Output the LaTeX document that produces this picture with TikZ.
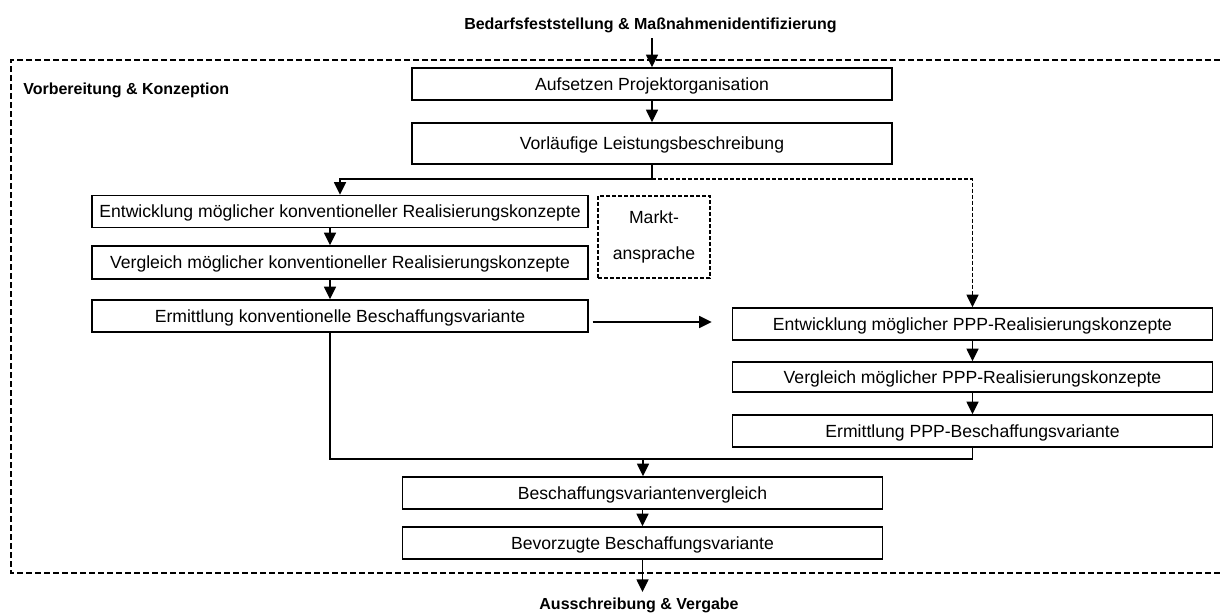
\documentclass[tikz,border=0pt]{standalone}
\usepackage{fontspec}
\setmainfont{Liberation Sans}
\usetikzlibrary{arrows.meta}

\begin{document}
\begin{tikzpicture}[
    x=0.75pt,y=-0.75pt,
    box/.style={draw,line width=1.1pt,inner sep=0pt,text height=9.6pt,text depth=0pt,
      minimum width=360pt,minimum height=24pt,font=\fontsize{13.2}{15}\selectfont},
    widebox/.style={box,minimum width=372pt},
    notebox/.style={box,minimum width=84pt,minimum height=61.5pt,align=center,
      text height=,text depth=,
      dash pattern=on 3pt off 1.5pt,font=\fontsize{13.2}{27.5}\selectfont},
    title/.style={inner sep=0pt,font=\fontsize{12}{14}\selectfont\bfseries},
    arrow/.style={-{Triangle[length=9.5pt,width=9pt]},draw=black,line width=1.1pt},
    link/.style={draw=black,line width=1.1pt},
    frame/.style={line width=1.4pt,dash pattern=on 4.5pt off 2.25pt}
  ]
    \useasboundingbox (0,0) rectangle (1220,614);
    % phase frame
    \draw[frame] (1220,60) -- (11,60) -- (11,573) -- (1220,573);
    \node[title,anchor=west] (phase) at (23,90) {Vorbereitung \& Konzeption};
    \node[title] (bedarf) at (650.5,25) {Bedarfsfeststellung \& Maßnahmenidentifizierung};
    \node[title,anchor=north] (aus) at (639,598) {Ausschreibung \& Vergabe};

    \node[box] (auf) at (652,84) {Aufsetzen Projektorganisation};
    \node[box,minimum height=30.75pt] (vor) at (652,143.5) {Vorläufige Leistungsbeschreibung};
    % conventional branch
    \node[widebox] (ekonv) at (340,211.5) {Entwicklung möglicher konventioneller Realisierungskonzepte};
    \node[widebox,minimum height=24.75pt] (vkonv) at (340,262.5) {Vergleich möglicher konventioneller Realisierungskonzepte};
    \node[widebox] (ermkonv) at (340,316) {Ermittlung konventionelle Beschaffungsvariante};
    \node[notebox] (markt) at (654,237) {Markt-\\ansprache};
    % PPP branch
    \node[box] (eppp) at (972.5,324) {Entwicklung möglicher PPP-Realisierungskonzepte};
    \node[box,minimum height=22.5pt] (vppp) at (972.5,377) {Vergleich möglicher PPP-Realisierungskonzepte};
    \node[box] (ermppp) at (972.5,431) {Ermittlung PPP-Beschaffungsvariante};
    % comparison
    \node[box] (bvv) at (642.5,493) {Beschaffungsvariantenvergleich};
    \node[box] (bev) at (642.5,543) {Bevorzugte Beschaffungsvariante};

    \coordinate (split) at (652,179);
    \coordinate (lcol) at (330,0);
    \coordinate (hrow) at (0,322);
    \coordinate (merge) at (643,459);

    \draw[arrow,shorten <=4pt] (auf.north |- bedarf.south) -- (auf.north);
    \draw[arrow] (auf.south) -- (vor.north);
    \draw[link] (vor.south) -- (split);
    \draw[arrow] (split) -| (ekonv.north);
    \draw[arrow,dash pattern=on 3pt off 1.5pt] (split) -| (eppp.north);
    \draw[arrow] (ekonv.south -| lcol) -- (vkonv.north -| lcol);
    \draw[arrow] (vkonv.south -| lcol) -- (ermkonv.north -| lcol);
    \draw[arrow,shorten <=3pt,shorten >=15pt] (ermkonv.east |- hrow) -- (eppp.west |- hrow);
    \draw[arrow] (eppp.south) -- (vppp.north);
    \draw[arrow] (vppp.south) -- (ermppp.north);
    \draw[link] (ermkonv.south -| lcol) |- (merge);
    \draw[link] (ermppp.south) |- (merge);
    \draw[arrow] (merge) -- (merge |- bvv.north);
    \draw[arrow] (bvv.south) -- (bev.north);
    \draw[arrow,shorten >=4.5pt] (bev.south) -- (bev.south |- aus.north);
\end{tikzpicture}
\end{document}
